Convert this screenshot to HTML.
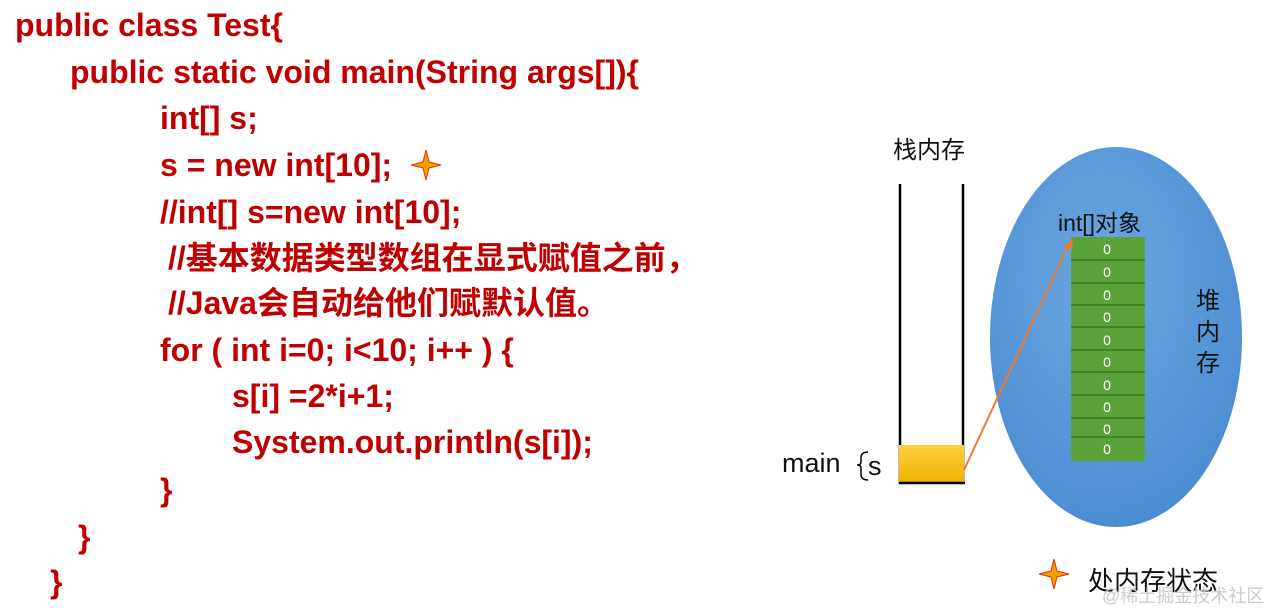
<!DOCTYPE html>
<html><head><meta charset="utf-8"><style>
body{margin:0;width:1269px;height:607px;background:#fff;position:relative;overflow:hidden;font-family:"Liberation Sans","Noto Sans CJK SC",sans-serif}
.c{position:absolute;color:#c00000;font-weight:bold;font-size:32px;white-space:nowrap;line-height:32px}
.t{position:absolute;color:#111;white-space:nowrap}
</style></head><body>
<div class="c" style="left:15px;top:9px">public class Test{</div>
<div class="c" style="left:70px;top:56px">public static void main(String args[]){</div>
<div class="c" style="left:160px;top:102px">int[] s;</div>
<div class="c" style="left:160px;top:149px">s = new int[10];</div>
<div class="c" style="left:160px;top:196px">//int[] s=new int[10];</div>
<div class="c" style="left:168px;top:242px">//基本数据类型数组在显式赋值之前，</div>
<div class="c" style="left:168px;top:287px">//Java会自动给他们赋默认值。</div>
<div class="c" style="left:160px;top:334px">for ( int i=0; i&lt;10; i++ ) {</div>
<div class="c" style="left:232px;top:380px">s[i] =2*i+1;</div>
<div class="c" style="left:232px;top:426px">System.out.println(s[i]);</div>
<div class="c" style="left:160px;top:474px">}</div>
<div class="c" style="left:78px;top:521px">}</div>
<div class="c" style="left:50px;top:566px">}</div>
<svg width="1269" height="607" style="position:absolute;left:0;top:0">
<defs>
<radialGradient id="e" cx="0.45" cy="0.35" r="0.7"><stop offset="0" stop-color="#6aa6e0"/><stop offset="1" stop-color="#4a8bd0"/></radialGradient>
<linearGradient id="y" x1="0" y1="0" x2="0" y2="1"><stop offset="0" stop-color="#ffd040"/><stop offset="1" stop-color="#f0b000"/></linearGradient>
</defs>
<g fill="#f5a000" stroke="#e03000" stroke-width="1"><path d="M426 150 L429 162 L441 165 L429 168 L426 180 L423 168 L411 165 L423 162 Z"/><path d="M1054 559 L1057 571 L1069 574 L1057 577 L1054 589 L1051 577 L1039 574 L1051 571 Z"/></g>
<line x1="900" y1="184" x2="900" y2="484" stroke="#000" stroke-width="2.5"/>
<line x1="963" y1="184" x2="963" y2="484" stroke="#000" stroke-width="2.5"/>
<rect x="899" y="445" width="65" height="38" fill="url(#y)"/>
<line x1="899" y1="483" x2="965" y2="483" stroke="#000" stroke-width="2.5"/>
<ellipse cx="1116" cy="337" rx="126" ry="190" fill="url(#e)"/>
<rect x="1071" y="237" width="74" height="224" fill="#5aa23a"/>
<g stroke="#3d7a25" stroke-width="1.5">
<line x1="1071" y1="260" x2="1145" y2="260"/><line x1="1071" y1="283" x2="1145" y2="283"/><line x1="1071" y1="305" x2="1145" y2="305"/><line x1="1071" y1="327" x2="1145" y2="327"/><line x1="1071" y1="350" x2="1145" y2="350"/><line x1="1071" y1="372" x2="1145" y2="372"/><line x1="1071" y1="395" x2="1145" y2="395"/><line x1="1071" y1="418" x2="1145" y2="418"/><line x1="1071" y1="437" x2="1145" y2="437"/>
</g>
<g fill="#fff" font-size="14" text-anchor="middle" font-family="Liberation Sans">
<text x="1107" y="254">0</text><text x="1107" y="277">0</text><text x="1107" y="300">0</text><text x="1107" y="322">0</text><text x="1107" y="345">0</text><text x="1107" y="367">0</text><text x="1107" y="390">0</text><text x="1107" y="412">0</text><text x="1107" y="434">0</text><text x="1107" y="454">0</text>
</g>
<line x1="964" y1="470" x2="1068" y2="246" stroke="#f07830" stroke-width="2"/>
<polygon points="1073,238 1064,247 1072,250" fill="#f07830"/>
<path d="M868 452 Q861 452 861 458 L861 462 Q861 465 857 465 Q861 465 861 468 L861 474 Q861 480 868 480" fill="none" stroke="#000" stroke-width="1.5"/>
</svg>
<div class="t" style="left:893px;top:130px;font-size:24px">栈内存</div>
<div class="t" style="left:1058px;top:204px;font-size:23px">int[]对象</div>
<div class="t" style="left:1196px;top:286px;font-size:24px;line-height:31px;width:26px">堆<br>内<br>存</div>
<div class="t" style="left:782px;top:448px;font-size:27px">main</div>
<div class="t" style="left:868px;top:451px;font-size:27px">s</div>
<div class="t" style="left:1088px;top:561px;font-size:26px">处内存状态</div>
<div class="t" style="left:1102px;top:582px;font-size:18px;color:#ccc">@稀土掘金技术社区</div>
</body></html>
